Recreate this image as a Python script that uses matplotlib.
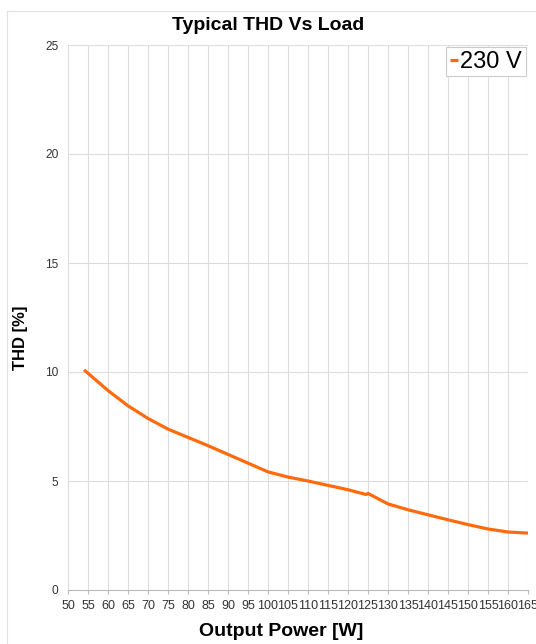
import numpy as np
import matplotlib
matplotlib.use("Agg")
import matplotlib.pyplot as plt

plt.rcParams['font.family'] = ['Liberation Sans', 'DejaVu Sans']

# data
power_w = [54, 60, 65, 70, 75, 80, 85, 90, 95, 100, 105, 110, 115, 120, 124.5, 125,
           130, 135, 140, 145, 150, 155, 160, 165]
thd_pct = [10.1, 9.15, 8.45, 7.87, 7.38, 7.0, 6.62, 6.22, 5.82, 5.42, 5.18, 5.0, 4.8, 4.6, 4.38, 4.43,
           3.95, 3.68, 3.45, 3.22, 3.0, 2.8, 2.66, 2.61]
series_label = "230 V"
x_ticks = list(range(50, 166, 5))
y_ticks = [0, 5, 10, 15, 20, 25]

fig = plt.figure(figsize=(5.36, 6.44), dpi=100)
ax = fig.add_axes([68/536, 1-590/644, (528-68)/536, (590-45)/644])

ax.plot(power_w, thd_pct, color='#ff6a0d', lw=2.3, label=series_label, solid_capstyle='butt')

ax.set_xlim(50, 165)
ax.set_ylim(0, 25)
ax.set_xticks(x_ticks)
ax.set_yticks(y_ticks)
ax.tick_params(axis='x', labelsize=9, length=3, color='#bbbbbb', pad=4, labelcolor='#333333')
ax.tick_params(axis='y', labelsize=8.6, length=0, pad=7, labelcolor='#333333')
ax.grid(True, color='#dddddd', lw=0.8)
ax.set_axisbelow(True)
for s in ['top', 'right']:
    ax.spines[s].set_visible(False)
ax.spines['left'].set_color('#dddddd')
ax.spines['bottom'].set_color('#bbbbbb')

# title centred on the whole chart area
fig.text(268/536, 1-25/644, "Typical THD Vs Load", fontsize=14, fontweight='bold',
         ha='center', va='center')
ax.set_xlabel("Output Power [W]", fontsize=14, fontweight='bold')
ax.xaxis.set_label_coords((281-68)/460, -(632-590)/545)
ax.xaxis.label.set_va('center')
ax.set_ylabel("THD [%]", fontsize=12, fontweight='bold')
ax.yaxis.set_label_coords(-(68-21)/460, (590-338)/545)
ax.yaxis.label.set_va('center')

leg = ax.legend(loc='upper right', fontsize=17, handlelength=0.35, handletextpad=0.1,
                borderpad=0.15, borderaxespad=0.1, fancybox=False, framealpha=1)
leg.get_frame().set_edgecolor('#cccccc')
leg.get_frame().set_linewidth(0.8)

# outer chart border
fig.patches.append(plt.Rectangle((7/536, -0.01), 0.99, 1-11/644+0.01, transform=fig.transFigure,
                                 fill=False, edgecolor='#e0e0e0', lw=0.8))

fig.savefig("out.png", dpi=100)
